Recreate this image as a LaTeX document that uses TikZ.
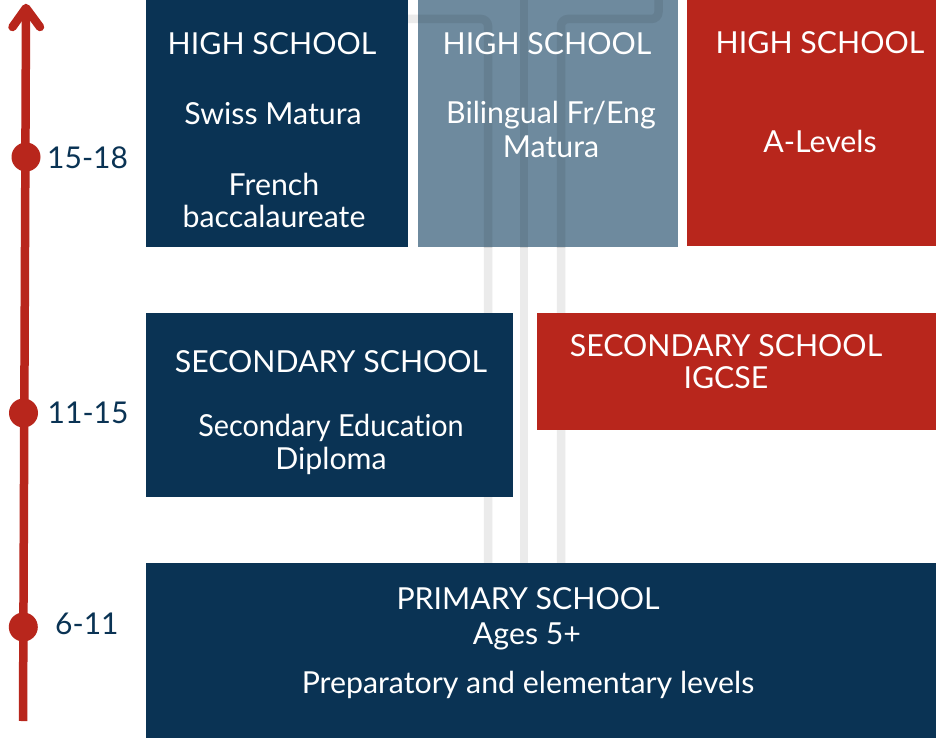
\documentclass[tikz,border=0pt]{standalone}
\usepackage{fontspec}
\setmainfont[Ligatures=NoCommon]{Lato}
\definecolor{navy}{HTML}{0A3354}
\definecolor{schred}{HTML}{B8261C}
\definecolor{slate}{HTML}{6E8A9E}
\definecolor{track}{HTML}{EBEBEB}
\begin{document}
\begin{tikzpicture}[x=1pt,y=-1pt,
  box/.style={draw=none,inner sep=0pt,anchor=north west},
  txt/.style={text=white,anchor=base,inner sep=0pt,font=\fontsize{30.3}{35}\selectfont},
  age/.style={text=navy,anchor=base west,inner sep=0pt,font=\fontsize{30}{35}\selectfont},
  trackline/.style={line width=8.5pt,rounded corners=7pt},
  dot/.style={circle,fill=schred,minimum size=29pt,inner sep=0pt}]
\useasboundingbox (0,0) rectangle (936,738);
\fill[white] (0,0) rectangle (936,738);
% background tracks
\coordinate (ta0) at (300,19);
\coordinate (ta1) at (488,19);
\coordinate (ta2) at (488,563);
\coordinate (tb0) at (524,0);
\coordinate (tb1) at (524,563);
\coordinate (tc0) at (658.5,0);
\coordinate (tc1) at (658.5,19);
\coordinate (tc2) at (561,19);
\coordinate (tc3) at (561,563);
\draw[trackline,track] (ta0) -- (ta1) -- (ta2);
\draw[trackline,track] (tb0) -- (tb1);
\draw[trackline,track] (tc0) -- (tc1) -- (tc2) -- (tc3);
% boxes
\node[box,fill=navy,minimum width=262pt,minimum height=247pt] (hs1) at (146,0) {};
\node[box,fill=slate,minimum width=260pt,minimum height=247pt] (hs2) at (418,0) {};
\node[box,fill=schred,minimum width=249pt,minimum height=246pt] (hs3) at (687,0) {};
\node[box,fill=navy,minimum width=367pt,minimum height=184pt] (sec1) at (146,313) {};
\node[box,fill=schred,minimum width=399pt,minimum height=117pt] (sec2) at (537,313) {};
\node[box,fill=navy,minimum width=790pt,minimum height=175pt] (prim) at (146,563) {};
% tracks seen through the slate box
\begin{scope}
\clip (418,0) rectangle (678,247);
\draw[trackline,black,opacity=0.08] (ta0) -- (ta1) -- (ta2);
\draw[trackline,black,opacity=0.08] (tb0) -- (tb1);
\draw[trackline,black,opacity=0.08] (tc0) -- (tc1) -- (tc2) -- (tc3);
\end{scope}
% texts
\node[txt] (hs1a) at (272,55) {HIGH SCHOOL};
\node[txt] (hs1b) at (273,125) {Swiss Matura};
\node[txt] (hs1c) at (274,195) {French};
\node[txt] (hs1d) at (274,227) {baccalaureate};
\node[txt] (hs2a) at (547,55) {HIGH SCHOOL};
\node[txt] (hs2b) at (551,124) {Bilingual Fr/Eng};
\node[txt] (hs2c) at (551,158) {Matura};
\node[txt] (hs3a) at (820,54) {HIGH SCHOOL};
\node[txt] (hs3b) at (820,153) {A-Levels};
\node[txt] (sec1a) at (331,372) {SECONDARY SCHOOL};
\node[txt] (sec1b) at (331,436) {\scalebox{0.95}[1]{Secondary Education}};
\node[txt] (sec1c) at (331,469) {Diploma};
\node[txt] (sec2a) at (726,356) {SECONDARY SCHOOL};
\node[txt] (sec2b) at (726,388) {IGCSE};
\node[txt] (prima) at (528,609) {PRIMARY SCHOOL};
\node[txt] (primb) at (527,644) {Ages 5+};
\node[txt] (primc) at (528,693) {Preparatory and elementary levels};
% timeline
\coordinate (tltop) at (26,10);
\coordinate (tlbot) at (23,721);
\coordinate (arl) at (12.5,27);
\coordinate (arr) at (40,27);
\draw[schred,line width=8.5pt] (tlbot) -- (tltop);
\draw[schred,line width=8.5pt,line cap=round,line join=round] (arl) -- (26,8) -- (arr);
\node[dot] (d1) at (26,157) {};
\node[dot] (d2) at (23.5,413) {};
\node[dot] (d3) at (23.3,627) {};
\node[age] (l1) at (47,168) {15-18};
\node[age] (l2) at (47.5,423) {11-15};
\node[age] (l3) at (55,634) {6-11};
\end{tikzpicture}
\end{document}
